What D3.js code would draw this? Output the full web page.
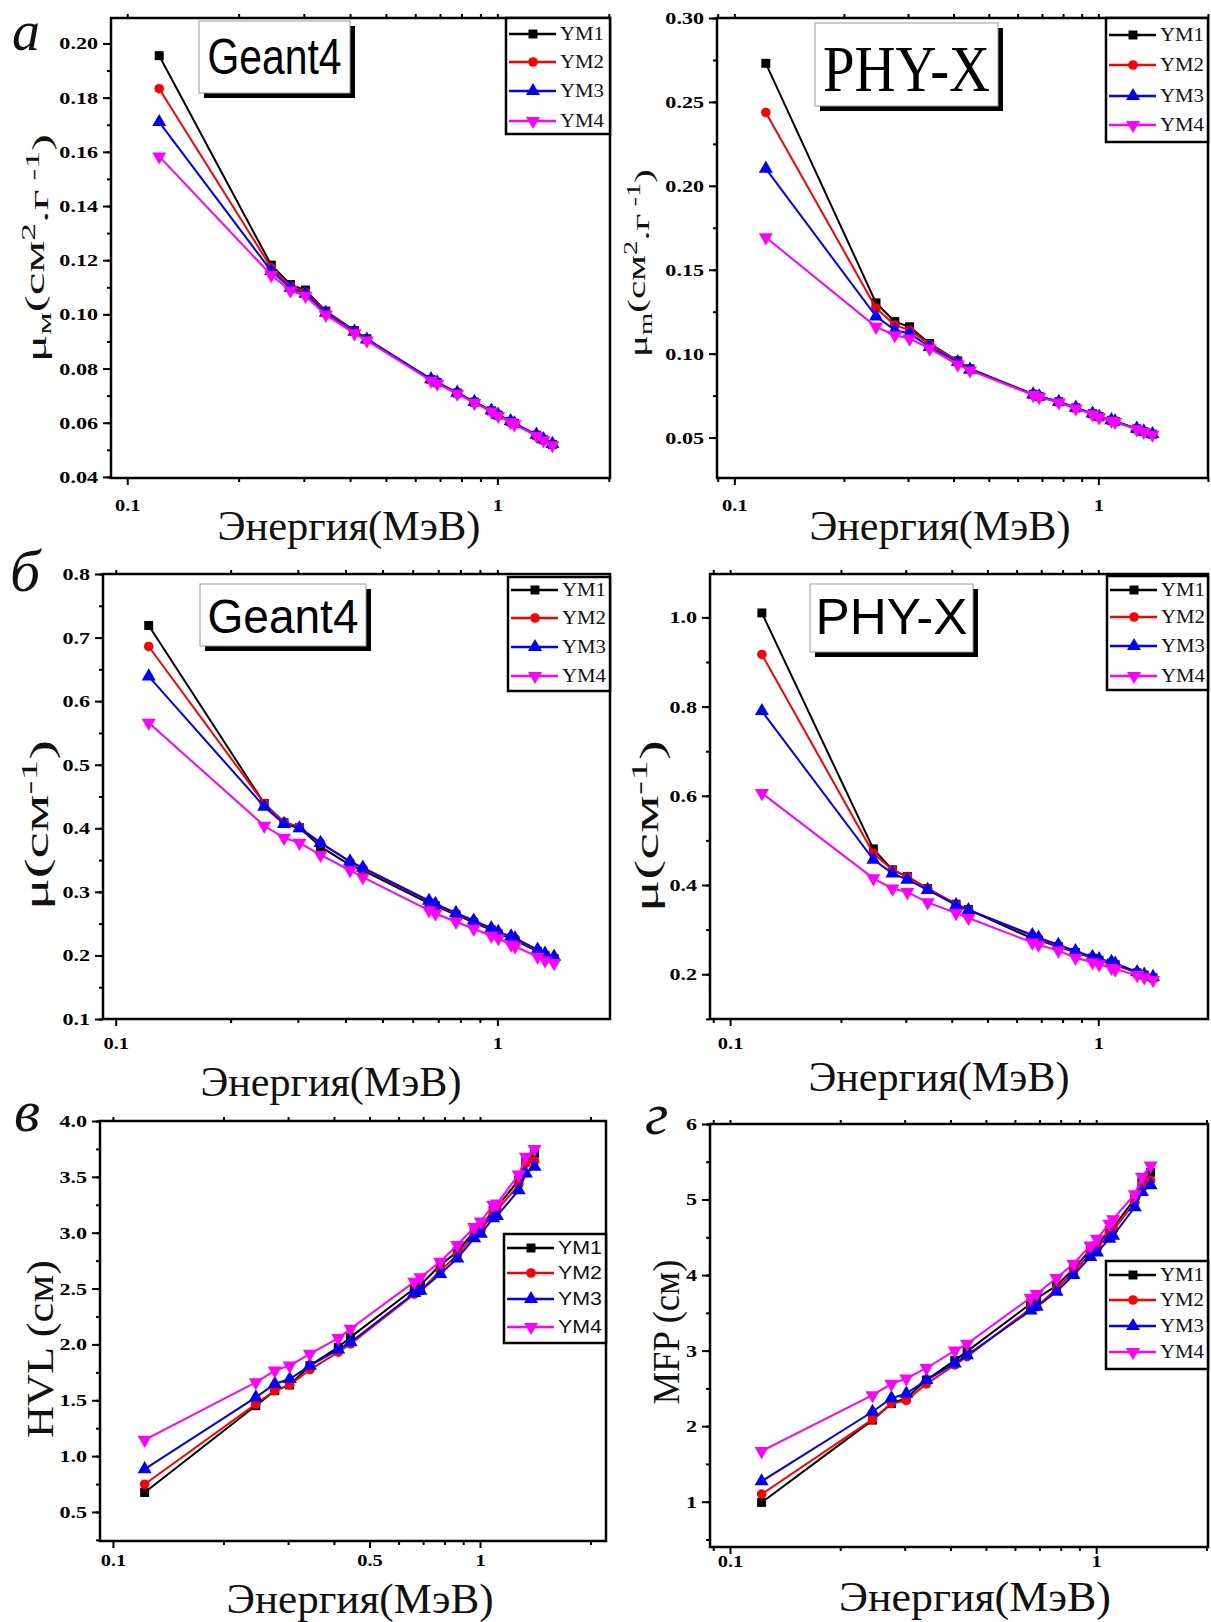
<!DOCTYPE html>
<html><head><meta charset="utf-8">
<script src="https://cdn.jsdelivr.net/npm/d3@7"></script>
<style>html,body{margin:0;padding:0;background:#fff;}svg{display:block;}</style>
</head><body>
<svg id="c" width="1211" height="1622"></svg>
<script>
// ---------------- DATA ----------------
const energies = [0.122, 0.245, 0.276, 0.303, 0.344, 0.411, 0.444, 0.662, 0.688, 0.779, 0.867, 0.964, 1.005, 1.086, 1.112, 1.275, 1.333, 1.408];
const seriesNames = ["YM1", "YM2", "YM3", "YM4"];

// (a) mass attenuation coefficient, Geant4
const muMassGeant4 = [
  [0.1955, 0.1182, 0.1110, 0.1090, 0.1012, 0.0940, 0.0910, 0.0760, 0.0748, 0.0710, 0.0676, 0.0644, 0.0628, 0.0605, 0.0597, 0.0554, 0.0537, 0.0520],
  [0.1833, 0.1172, 0.1105, 0.1082, 0.1010, 0.0938, 0.0909, 0.0759, 0.0747, 0.0709, 0.0675, 0.0643, 0.0627, 0.0604, 0.0596, 0.0553, 0.0536, 0.0519],
  [0.1710, 0.1160, 0.1098, 0.1076, 0.1006, 0.0936, 0.0907, 0.0761, 0.0749, 0.0711, 0.0677, 0.0645, 0.0629, 0.0606, 0.0598, 0.0556, 0.0539, 0.0522],
  [0.1583, 0.1145, 0.1088, 0.1068, 0.0998, 0.0930, 0.0903, 0.0755, 0.0744, 0.0707, 0.0673, 0.0641, 0.0625, 0.0602, 0.0594, 0.0552, 0.0535, 0.0517]
];
// (a) mass attenuation coefficient, PHY-X
const muMassPhyX = [
  [0.2730, 0.1303, 0.1191, 0.1160, 0.1060, 0.0957, 0.0910, 0.0758, 0.0745, 0.0713, 0.0677, 0.0642, 0.0624, 0.0603, 0.0596, 0.0552, 0.0536, 0.0520],
  [0.2437, 0.1272, 0.1170, 0.1140, 0.1055, 0.0955, 0.0908, 0.0757, 0.0744, 0.0712, 0.0676, 0.0641, 0.0623, 0.0602, 0.0595, 0.0551, 0.0535, 0.0519],
  [0.2102, 0.1222, 0.1140, 0.1120, 0.1040, 0.0950, 0.0905, 0.0757, 0.0745, 0.0713, 0.0678, 0.0643, 0.0625, 0.0604, 0.0597, 0.0553, 0.0537, 0.0521],
  [0.1693, 0.1160, 0.1110, 0.1090, 0.1030, 0.0935, 0.0900, 0.0753, 0.0741, 0.0709, 0.0673, 0.0638, 0.0620, 0.0600, 0.0593, 0.0549, 0.0533, 0.0517]
];
// (б) linear attenuation coefficient, Geant4
const muLinGeant4 = [
  [0.719, 0.439, 0.409, 0.401, 0.371, 0.342, 0.334, 0.282, 0.278, 0.264, 0.252, 0.240, 0.234, 0.227, 0.224, 0.206, 0.200, 0.195],
  [0.686, 0.439, 0.410, 0.402, 0.377, 0.347, 0.337, 0.285, 0.280, 0.266, 0.254, 0.242, 0.236, 0.229, 0.226, 0.208, 0.202, 0.197],
  [0.639, 0.434, 0.407, 0.400, 0.377, 0.348, 0.338, 0.286, 0.281, 0.267, 0.255, 0.243, 0.237, 0.230, 0.227, 0.209, 0.203, 0.198],
  [0.566, 0.404, 0.385, 0.377, 0.358, 0.334, 0.323, 0.271, 0.266, 0.253, 0.242, 0.231, 0.227, 0.217, 0.214, 0.198, 0.192, 0.188]
];
// (б) linear attenuation coefficient, PHY-X
const muLinPhyX = [
  [1.010, 0.481, 0.434, 0.419, 0.392, 0.357, 0.345, 0.280, 0.276, 0.262, 0.249, 0.236, 0.231, 0.225, 0.221, 0.203, 0.198, 0.192],
  [0.917, 0.471, 0.434, 0.419, 0.392, 0.357, 0.345, 0.286, 0.280, 0.264, 0.250, 0.237, 0.232, 0.226, 0.222, 0.204, 0.198, 0.193],
  [0.790, 0.457, 0.426, 0.412, 0.389, 0.355, 0.344, 0.288, 0.282, 0.266, 0.252, 0.239, 0.234, 0.228, 0.224, 0.205, 0.199, 0.194],
  [0.606, 0.415, 0.392, 0.384, 0.361, 0.337, 0.326, 0.271, 0.266, 0.253, 0.237, 0.227, 0.222, 0.214, 0.211, 0.198, 0.193, 0.187]
];
// (в) half value layer, cm
const hvl = [
  [0.674, 1.451, 1.586, 1.637, 1.810, 1.975, 2.065, 2.50, 2.53, 2.71, 2.83, 3.01, 3.05, 3.20, 3.23, 3.47, 3.64, 3.71],
  [0.748, 1.466, 1.586, 1.637, 1.774, 1.930, 2.005, 2.45, 2.48, 2.66, 2.80, 2.98, 3.02, 3.17, 3.20, 3.43, 3.62, 3.64],
  [0.883, 1.526, 1.646, 1.690, 1.810, 1.954, 2.020, 2.46, 2.48, 2.63, 2.77, 2.95, 2.99, 3.13, 3.15, 3.38, 3.53, 3.59],
  [1.146, 1.661, 1.765, 1.810, 1.915, 2.056, 2.140, 2.56, 2.60, 2.74, 2.89, 3.05, 3.10, 3.25, 3.26, 3.52, 3.68, 3.75]
];
// (г) mean free path, cm
const mfp = [
  [0.99, 2.08, 2.30, 2.37, 2.61, 2.87, 2.99, 3.62, 3.69, 3.86, 4.08, 4.33, 4.39, 4.59, 4.63, 5.01, 5.23, 5.36],
  [1.10, 2.09, 2.30, 2.34, 2.56, 2.81, 2.92, 3.56, 3.58, 3.82, 4.04, 4.28, 4.35, 4.55, 4.59, 4.96, 5.19, 5.25],
  [1.27, 2.19, 2.37, 2.43, 2.61, 2.83, 2.94, 3.53, 3.58, 3.78, 4.00, 4.24, 4.30, 4.48, 4.52, 4.90, 5.10, 5.19],
  [1.67, 2.41, 2.56, 2.63, 2.77, 3.00, 3.09, 3.70, 3.75, 3.96, 4.15, 4.39, 4.48, 4.68, 4.74, 5.07, 5.30, 5.45]
];

// tick labels
const yTicksA1 = [0.04, 0.06, 0.08, 0.10, 0.12, 0.14, 0.16, 0.18, 0.20];
const yTicksA2 = [0.05, 0.10, 0.15, 0.20, 0.25, 0.30];
const yTicksB1 = [0.1, 0.2, 0.3, 0.4, 0.5, 0.6, 0.7, 0.8];
const yTicksB2 = [0.2, 0.4, 0.6, 0.8, 1.0];
const yTicksV = [0.5, 1.0, 1.5, 2.0, 2.5, 3.0, 3.5, 4.0];
const yTicksG = [1, 2, 3, 4, 5, 6];
const xTicksLog = [0.1, 1];
const xTicksV = [0.1, 0.5, 1];
const xTitle = "Энергия(МэВ)";

// ---------------- DRAW ----------------
const svg = d3.select("#c");
const colors = ["#000000", "#ff0000", "#0000ff", "#ff00ff"];
const SERIF = "'Liberation Serif','Times New Roman',serif";
const SANS = "'Liberation Sans',Arial,sans-serif";

function symPath(i, s) {
  const types = [d3.symbolSquare, d3.symbolCircle, d3.symbolTriangle, d3.symbolTriangle];
  const sizes = [80, 72, 85, 85];
  return d3.symbol().type(types[i]).size(sizes[i] * (s || 1))();
}

function stretch(sel, k) {
  sel.each(function () {
    const w = this.getComputedTextLength();
    if (w > 0) d3.select(this).attr("textLength", w * k).attr("lengthAdjust", "spacingAndGlyphs");
  });
}

function drawPanel(p) {
  const g = svg.append("g");
  const x = d3.scaleLog().domain(p.xDomain).range([p.L, p.R]);
  const y = d3.scaleLinear().domain(p.yDomain).range([p.B, p.T]);

  // series
  p.data.forEach((vals, i) => {
    const pts = energies.map((e, j) => [e, vals[j]]);
    g.append("path").datum(pts)
      .attr("d", d3.line().x(d => x(d[0])).y(d => y(d[1])))
      .attr("fill", "none").attr("stroke", colors[i]).attr("stroke-width", 2);
    g.selectAll(null).data(pts).enter().append("path")
      .attr("transform", d => `translate(${x(d[0])},${y(d[1])})` + (i === 3 ? " rotate(180)" : ""))
      .attr("d", symPath(i)).attr("fill", colors[i]);
  });

  // y axis
  const yMinor = d3.range(p.yDomain[0] - 1e-9, p.yDomain[1] + 1e-9, p.yMinorStep)
    .map(v => Math.round(Math.ceil(v / p.yMinorStep - 1e-6) * p.yMinorStep * 1e6) / 1e6)
    .filter(v => v >= p.yDomain[0] && v <= p.yDomain[1]);
  const gyMin = g.append("g").attr("transform", `translate(${p.L},0)`)
    .call(d3.axisLeft(y).tickValues(yMinor).tickSize(4).tickFormat(""));
  const gy = g.append("g").attr("transform", `translate(${p.L},0)`)
    .call(d3.axisLeft(y).tickValues(p.yTicks).tickSize(8).tickPadding(5).tickFormat(d3.format(p.yFmt)));
  // x axis
  const xMinor = [0.09, 0.2, 0.3, 0.4, 0.5, 0.6, 0.7, 0.8, 0.9, 2].filter(v => v >= p.xDomain[0] && v <= p.xDomain[1]);
  const gxMin = g.append("g").attr("transform", `translate(0,${p.B})`)
    .call(d3.axisBottom(x).tickValues(xMinor).tickSize(4).tickFormat(""));
  const gx = g.append("g").attr("transform", `translate(0,${p.B})`)
    .call(d3.axisBottom(x).tickValues(p.xTicks).tickSize(7).tickPadding(p.xPad).tickFormat(d => String(d)));
  const gxTop = g.append("g").attr("transform", `translate(0,${p.T})`)
    .call(d3.axisTop(x).tickValues(xMinor.concat(p.xTicks)).tickSize(4).tickFormat(""));
  [gyMin, gy, gxMin, gx, gxTop].forEach(a => {
    a.select(".domain").remove();
    a.selectAll("line").attr("stroke", "#000").attr("stroke-width", 2);
  });
  [gy, gx].forEach(a => a.selectAll("text")
    .attr("fill", "#000").style("font-family", SERIF).style("font-weight", "bold").style("font-size", "17px"));
  stretch(gy.selectAll("text"), 1.3);
  stretch(gx.selectAll("text"), 1.2);

  // frame
  g.append("rect").attr("x", p.L).attr("y", p.T).attr("width", p.R - p.L).attr("height", p.B - p.T)
    .attr("fill", "none").attr("stroke", "#000").attr("stroke-width", 2.5);

  // x title
  g.append("text").attr("x", p.xt[0]).attr("y", p.xt[1]).attr("text-anchor", "middle")
    .style("font-family", SERIF).style("font-size", "42px").attr("fill", "#111")
    .attr("textLength", p.xt[2]).attr("lengthAdjust", "spacingAndGlyphs").text(xTitle);

  // y title
  const yt = g.append("text").attr("transform", `translate(${p.yt[0]},${p.yt[1]}) rotate(-90)`)
    .attr("text-anchor", "middle").style("font-family", SERIF).style("font-size", p.yt[3] + "px").attr("fill", "#111");
  p.ytParts.forEach(part => {
    const ts = yt.append("tspan").text(part.t);
    if (part.dy) ts.attr("dy", part.dy);
    if (part.fs) ts.style("font-size", part.fs);
  });
  yt.attr("textLength", p.yt[2]).attr("lengthAdjust", "spacingAndGlyphs");

  // panel letter
  if (p.letter) {
    g.append("text").attr("x", p.letter[1]).attr("y", p.letter[2])
      .style("font-family", SERIF).style("font-style", "italic").style("font-size", p.letter[3] + "px")
      .attr("fill", "#111").text(p.letter[0]);
  }

  // title box
  if (p.tbox) {
    const b = p.tbox;
    g.append("rect").attr("x", b.x + 5).attr("y", b.y + 5).attr("width", b.w).attr("height", b.h).attr("fill", "#000");
    g.append("rect").attr("x", b.x).attr("y", b.y).attr("width", b.w).attr("height", b.h)
      .attr("fill", "#fff").attr("stroke", "#999").attr("stroke-width", 1);
    g.append("text").attr("x", b.x + b.w / 2).attr("y", b.base).attr("text-anchor", "middle")
      .style("font-family", b.font).style("font-size", b.fs + "px").attr("fill", "#000")
      .attr("textLength", b.tl).attr("lengthAdjust", "spacingAndGlyphs").text(b.text);
  }

  // legend
  const lg = p.legend;
  g.append("rect").attr("x", lg.x).attr("y", lg.y).attr("width", lg.w).attr("height", lg.h)
    .attr("fill", "#fff").attr("stroke", "#000").attr("stroke-width", 2.5);
  seriesNames.forEach((name, i) => {
    const yy = lg.rows[i];
    g.append("line").attr("x1", lg.x + 3).attr("x2", lg.x + 50).attr("y1", yy).attr("y2", yy)
      .attr("stroke", colors[i]).attr("stroke-width", 2.5);
    g.append("path").attr("transform", `translate(${lg.x + 27},${yy})` + (i === 3 ? " rotate(180)" : ""))
      .attr("d", symPath(i)).attr("fill", colors[i]);
    g.append("text").attr("x", lg.x + 54).attr("y", yy + 6)
      .style("font-family", lg.font).style("font-size", "18px").attr("fill", "#111")
      .attr("textLength", 44).attr("lengthAdjust", "spacingAndGlyphs").text(name);
  });
}

const muMassTitle = sub => [
  { t: "μ" }, { t: sub, dy: "0.25em", fs: "0.7em" }, { t: "(cм", dy: "-0.25em" },
  { t: "2", dy: "-0.45em", fs: "0.7em" }, { t: ".г", dy: "0.45em" },
  { t: " -1", dy: "-0.45em", fs: "0.7em" }, { t: ")", dy: "0.45em" }
];
const muLinTitle = [{ t: "μ(cм" }, { t: "-1", dy: "-0.45em", fs: "0.7em" }, { t: ")", dy: "0.45em" }];

const panels = [
  { L: 111, R: 610, T: 18, B: 478, xDomain: [0.0904, 2.015], yDomain: [0.0396, 0.2094],
    data: muMassGeant4, yTicks: yTicksA1, yFmt: ".2f", yMinorStep: 0.01, xTicks: xTicksLog, xPad: 14,
    xt: [349, 540, 263], yt: [46, 248, 228, 28], ytParts: muMassTitle("м"),
    letter: ["а", 12, 50, 56],
    tbox: { x: 199, y: 21, w: 151, h: 72, text: "Geant4", font: SANS, fs: 50, base: 74, tl: 134 },
    legend: { x: 506, y: 18, w: 104, h: 116, rows: [34, 62, 91, 121], font: SERIF } },
  { L: 717, R: 1208, T: 18, B: 478, xDomain: [0.0896, 2.001], yDomain: [0.0259, 0.30],
    data: muMassPhyX, yTicks: yTicksA2, yFmt: ".2f", yMinorStep: 0.025, xTicks: xTicksLog, xPad: 14,
    xt: [940, 540, 261], yt: [647, 263, 188, 26], ytParts: muMassTitle("m"),
    tbox: { x: 815, y: 23, w: 183, h: 83, text: "PHY-X", font: SERIF, fs: 66, base: 91, tl: 167 },
    legend: { x: 1106, y: 18, w: 102, h: 124, rows: [35, 65, 96, 125], font: SERIF } },
  { L: 103, R: 610, T: 574, B: 1019, xDomain: [0.0926, 1.973], yDomain: [0.1, 0.8],
    data: muLinGeant4, yTicks: yTicksB1, yFmt: ".1f", yMinorStep: 0.05, xTicks: xTicksLog, xPad: 11,
    xt: [331, 1096, 261], yt: [48, 825, 170, 34], ytParts: muLinTitle,
    letter: ["б", 10, 591, 60],
    tbox: { x: 200, y: 584, w: 166, h: 62, text: "Geant4", font: SANS, fs: 49, base: 633, tl: 151 },
    legend: { x: 508, y: 577, w: 102, h: 114, rows: [590, 618, 647, 676], font: SERIF } },
  { L: 710, R: 1208, T: 574, B: 1019, xDomain: [0.0882, 1.986], yDomain: [0.0996, 1.0973],
    data: muLinPhyX, yTicks: yTicksB2, yFmt: ".1f", yMinorStep: 0.1, xTicks: xTicksLog, xPad: 11,
    xt: [939, 1091, 261], yt: [658, 826, 172, 34], ytParts: muLinTitle,
    tbox: { x: 810, y: 584, w: 163, h: 68, text: "PHY-X", font: SANS, fs: 50, base: 634, tl: 152 },
    legend: { x: 1107, y: 576, w: 101, h: 114, rows: [590, 617, 646, 676], font: SERIF } },
  { L: 100, R: 606, T: 1121, B: 1541, xDomain: [0.0922, 2.204], yDomain: [0.24, 4.0],
    data: hvl, yTicks: yTicksV, yFmt: ".1f", yMinorStep: 0.25, xTicks: xTicksV, xPad: 6,
    xt: [360, 1613, 267], yt: [53, 1349, 178, 37], ytParts: [{ t: "HVL (cм)" }],
    letter: ["в", 14, 1131, 60],
    legend: { x: 504, y: 1234, w: 102, h: 109, rows: [1248, 1273, 1299, 1327], font: SANS } },
  { L: 710, R: 1208, T: 1124, B: 1547, xDomain: [0.0882, 2.02], yDomain: [0.4, 6],
    data: mfp, yTicks: yTicksG, yFmt: "d", yMinorStep: 0.5, xTicks: xTicksLog, xPad: 1,
    xt: [975, 1611, 272], yt: [679, 1332, 145, 37], ytParts: [{ t: "MFP (cм)" }],
    letter: ["г", 645, 1134, 60],
    legend: { x: 1106, y: 1261, w: 102, h: 108, rows: [1275, 1300, 1326, 1352], font: SERIF } }
];

panels.forEach(drawPanel);
</script>
</body></html>
